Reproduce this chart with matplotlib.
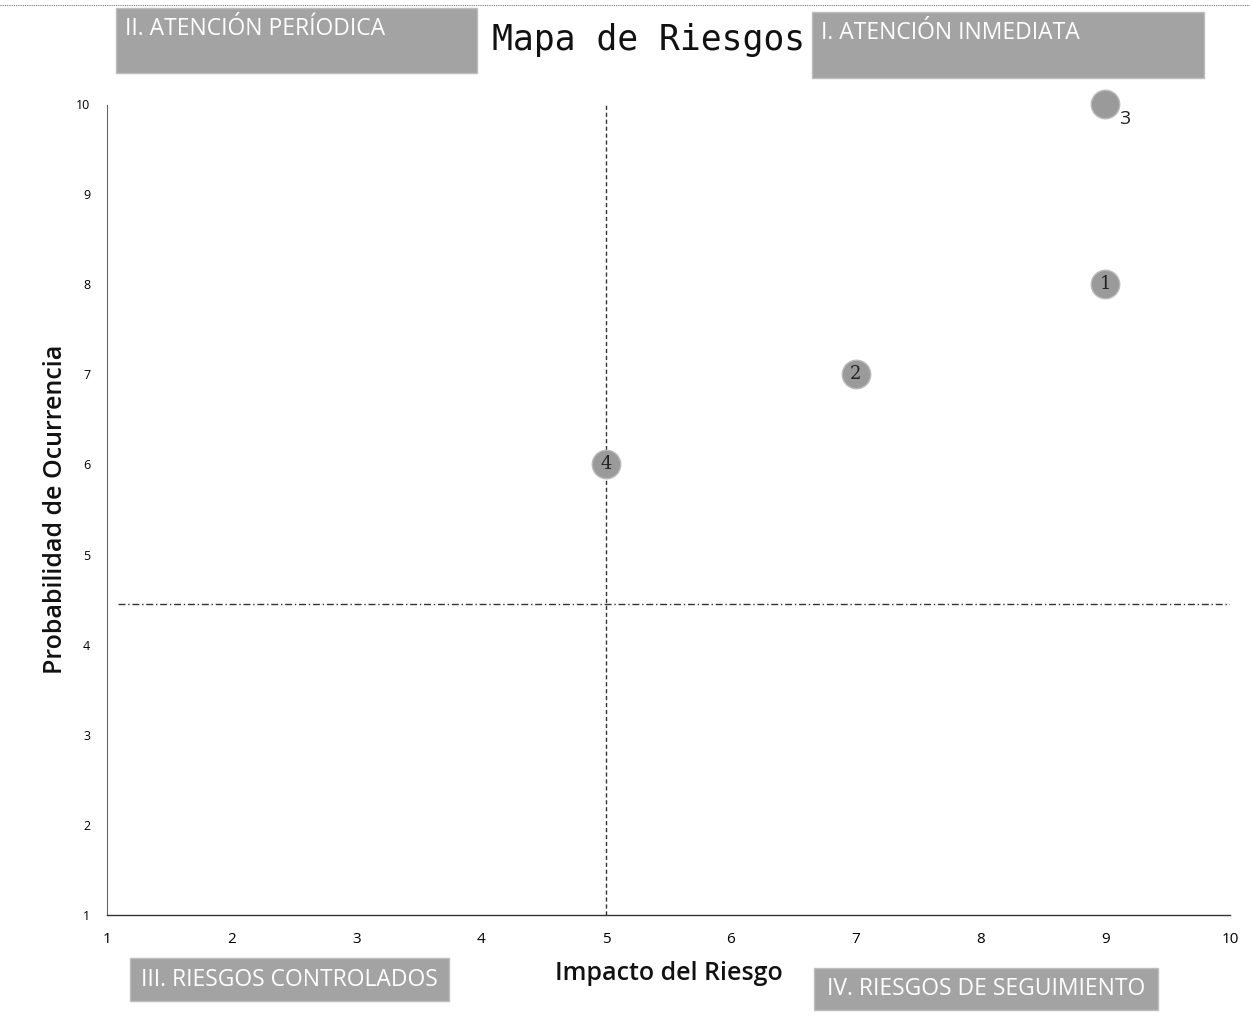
import matplotlib.pyplot as plt
import matplotlib.patches as mpatches

# datos del mapa de riesgos
riesgos = ['1', '2', '3', '4']
impacto = [9, 7, 9, 5]
probabilidad = [8, 7, 10, 6]
ticks_x = [1, 2, 3, 4, 5, 6, 7, 8, 9, 10]
ticks_y = [1, 2, 3, 4, 5, 6, 7, 8, 9, 10]
corte_x = 5
corte_y = 4.45
cuadrantes = ['II. ATENCIÓN PERÍODICA', 'I. ATENCIÓN INMEDIATA',
              'III. RIESGOS CONTROLADOS', 'IV. RIESGOS DE SEGUIMIENTO']

fig = plt.figure(figsize=(12.5, 10.36), dpi=100)
ax = fig.add_axes([0.0856, 0.1168, 0.984 - 0.0856, 0.8996 - 0.1168])

ax.set_xlim(1, 10)
ax.set_ylim(1, 10)
ax.set_xticks(ticks_x)
ax.set_yticks(ticks_y)
ax.tick_params(length=0, pad=12)
ax.tick_params(axis='x', labelsize=11)
ax.tick_params(axis='y', labelsize=9, pad=12)
for lab in ax.get_xticklabels() + ax.get_yticklabels():
    lab.set_family('Open Sans')

ax.spines['top'].set_visible(False)
ax.spines['right'].set_visible(False)
ax.spines['left'].set_color('#666666')
ax.spines['left'].set_linestyle((0, (1, 1)))
ax.spines['left'].set_linewidth(0.8)
ax.spines['bottom'].set_color('#333333')
ax.spines['bottom'].set_linewidth(1.0)

# lineas de corte
ax.axvline(corte_x, color='#333333', linestyle=(0, (3, 2)), linewidth=1.0)
ax.axhline(corte_y, xmin=0.01, color='#333333', linestyle=(0, (5, 2, 1, 2)), linewidth=1.0)

# puntos
ax.scatter(impacto, probabilidad, s=420, color='#9a9a9a', edgecolor='#bbbbbb',
           zorder=3, clip_on=False)
for r, x, y in zip(riesgos, impacto, probabilidad):
    if r == '3':
        ax.annotate(r, (x, y), xytext=(10, -11), textcoords='offset points',
                    ha='left', va='center', fontsize=14, family='Open Sans', color='#222222')
    else:
        ax.text(x, y, r, ha='center', va='center', fontsize=13, family='DejaVu Serif',
                color='#222222', zorder=4)

ax.set_xlabel('Impacto del Riesgo', fontsize=18, family='Open Sans', fontweight='semibold',
              labelpad=10, color='#111111')
ax.set_ylabel('Probabilidad de Ocurrencia', fontsize=18, family='Open Sans', fontweight='semibold',
              labelpad=6, color='#111111')

fig.text(0.5185, 0.961, 'Mapa de Riesgos', ha='center', va='center', fontsize=25,
         family='DejaVu Sans Mono', color='#111111')

# cajas de cuadrantes (en pixeles de figura)
cajas = [(116, 8, 477, 73), (812, 12, 1204, 78), (130, 958, 449, 1001), (814, 968, 1158, 1010)]
for texto, (x0, y0, x1, y1) in zip(cuadrantes, cajas):
    rect = mpatches.Rectangle((x0 / 1250, 1 - y1 / 1036), (x1 - x0) / 1250, (y1 - y0) / 1036,
                              transform=fig.transFigure, facecolor='#a3a3a3', edgecolor='#bdbdbd')
    fig.add_artist(rect)
    if y0 < 100:
        fig.text(x0 / 1250 + 0.007, 1 - (y0 + 21) / 1036, texto, ha='left', va='center',
                 fontsize=16.5, family='Open Sans', color='white')
    else:
        fig.text((x0 + x1) / 2 / 1250, 1 - (y0 + y1) / 2 / 1036, texto, ha='center', va='center',
                 fontsize=16.5, family='Open Sans', color='white')

# borde punteado del escaneo
fig.add_artist(plt.Line2D([0, 1], [0.995, 0.995], transform=fig.transFigure,
                          color='#777777', linestyle=(0, (1, 1)), linewidth=0.8))

fig.savefig('out.png', dpi=100)
